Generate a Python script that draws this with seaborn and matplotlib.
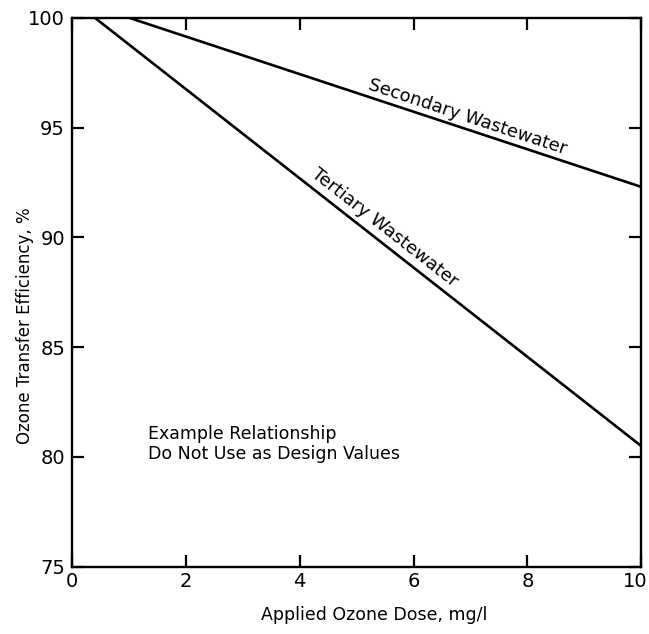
import numpy as np
import pandas as pd
import matplotlib
matplotlib.use('Agg')
import matplotlib.pyplot as plt
import matplotlib.transforms as mtransforms
import seaborn as sns

sns.set_theme(style='ticks')
plt.rcParams['font.family'] = ['DejaVu Sans']
plt.rcParams['text.color'] = 'black'
plt.rcParams['axes.labelcolor'] = 'black'
plt.rcParams['xtick.color'] = 'black'
plt.rcParams['ytick.color'] = 'black'

# data (line end points)
dose_secondary = [1.0, 10.0]
eff_secondary = [100.0, 92.3]
dose_tertiary = [0.4, 10.0]
eff_tertiary = [100.0, 80.5]

x_ticks = [0, 2, 4, 6, 8, 10]
y_ticks = [75, 80, 85, 90, 95, 100]

df = pd.concat([
    pd.DataFrame({'dose': dose_secondary, 'eff': eff_secondary, 'type': 'Secondary Wastewater'}),
    pd.DataFrame({'dose': dose_tertiary, 'eff': eff_tertiary, 'type': 'Tertiary Wastewater'}),
])

fig = plt.figure(figsize=(6.49, 6.34), dpi=100)
ax = fig.add_axes([0.111, 0.106, 0.877, 0.866])

sns.lineplot(data=df, x='dose', y='eff', units='type', estimator=None,
             color='black', lw=1.9, ax=ax, legend=False)

ax.set_xlim(0, 10)
ax.set_ylim(75, 100)
ax.set_xticks(x_ticks)
ax.set_yticks(y_ticks)
ax.tick_params(direction='in', length=8.5, width=1.6, labelsize=14,
               top=True, right=True, pad=5)
ax.tick_params(axis='x', pad=4)
for s in ax.spines.values():
    s.set_linewidth(1.7)
    s.set_color('black')

# nudge the last x label inwards so it stays on the canvas
lab10 = ax.get_xticklabels()[-1]
lab10.set_transform(lab10.get_transform() +
                    mtransforms.ScaledTranslation(-6 / 100, 0, fig.dpi_scale_trans))

ax.set_xlabel('Applied Ozone Dose, mg/l', fontsize=12.5)
ax.xaxis.set_label_coords(0.53, -0.087)
ax.set_ylabel('Ozone Transfer Efficiency, %', fontsize=12)
ax.yaxis.set_label_coords(-0.083, 0.44)
ax.yaxis.label.set_va('center')
ax.xaxis.label.set_va('center')

# line labels, rotated to follow the lines in screen space
def line_angle(xs, ys):
    p = ax.transData.transform(np.column_stack([xs, ys]))
    return np.degrees(np.arctan2(p[1, 1] - p[0, 1], p[1, 0] - p[0, 0]))

fig.canvas.draw()
ax.text(6.9, 95.1, 'Secondary Wastewater', rotation=line_angle(dose_secondary, eff_secondary),
        rotation_mode='anchor', ha='center', va='bottom', fontsize=13)
ax.text(5.4, 90.1, 'Tertiary Wastewater', rotation=line_angle(dose_tertiary, eff_tertiary),
        rotation_mode='anchor', ha='center', va='bottom', fontsize=13)

ax.text(1.33, 80.6, 'Example Relationship\nDo Not Use as Design Values',
        ha='left', va='center', fontsize=12.5, linespacing=1.15)

fig.savefig('out.png', dpi=100)
